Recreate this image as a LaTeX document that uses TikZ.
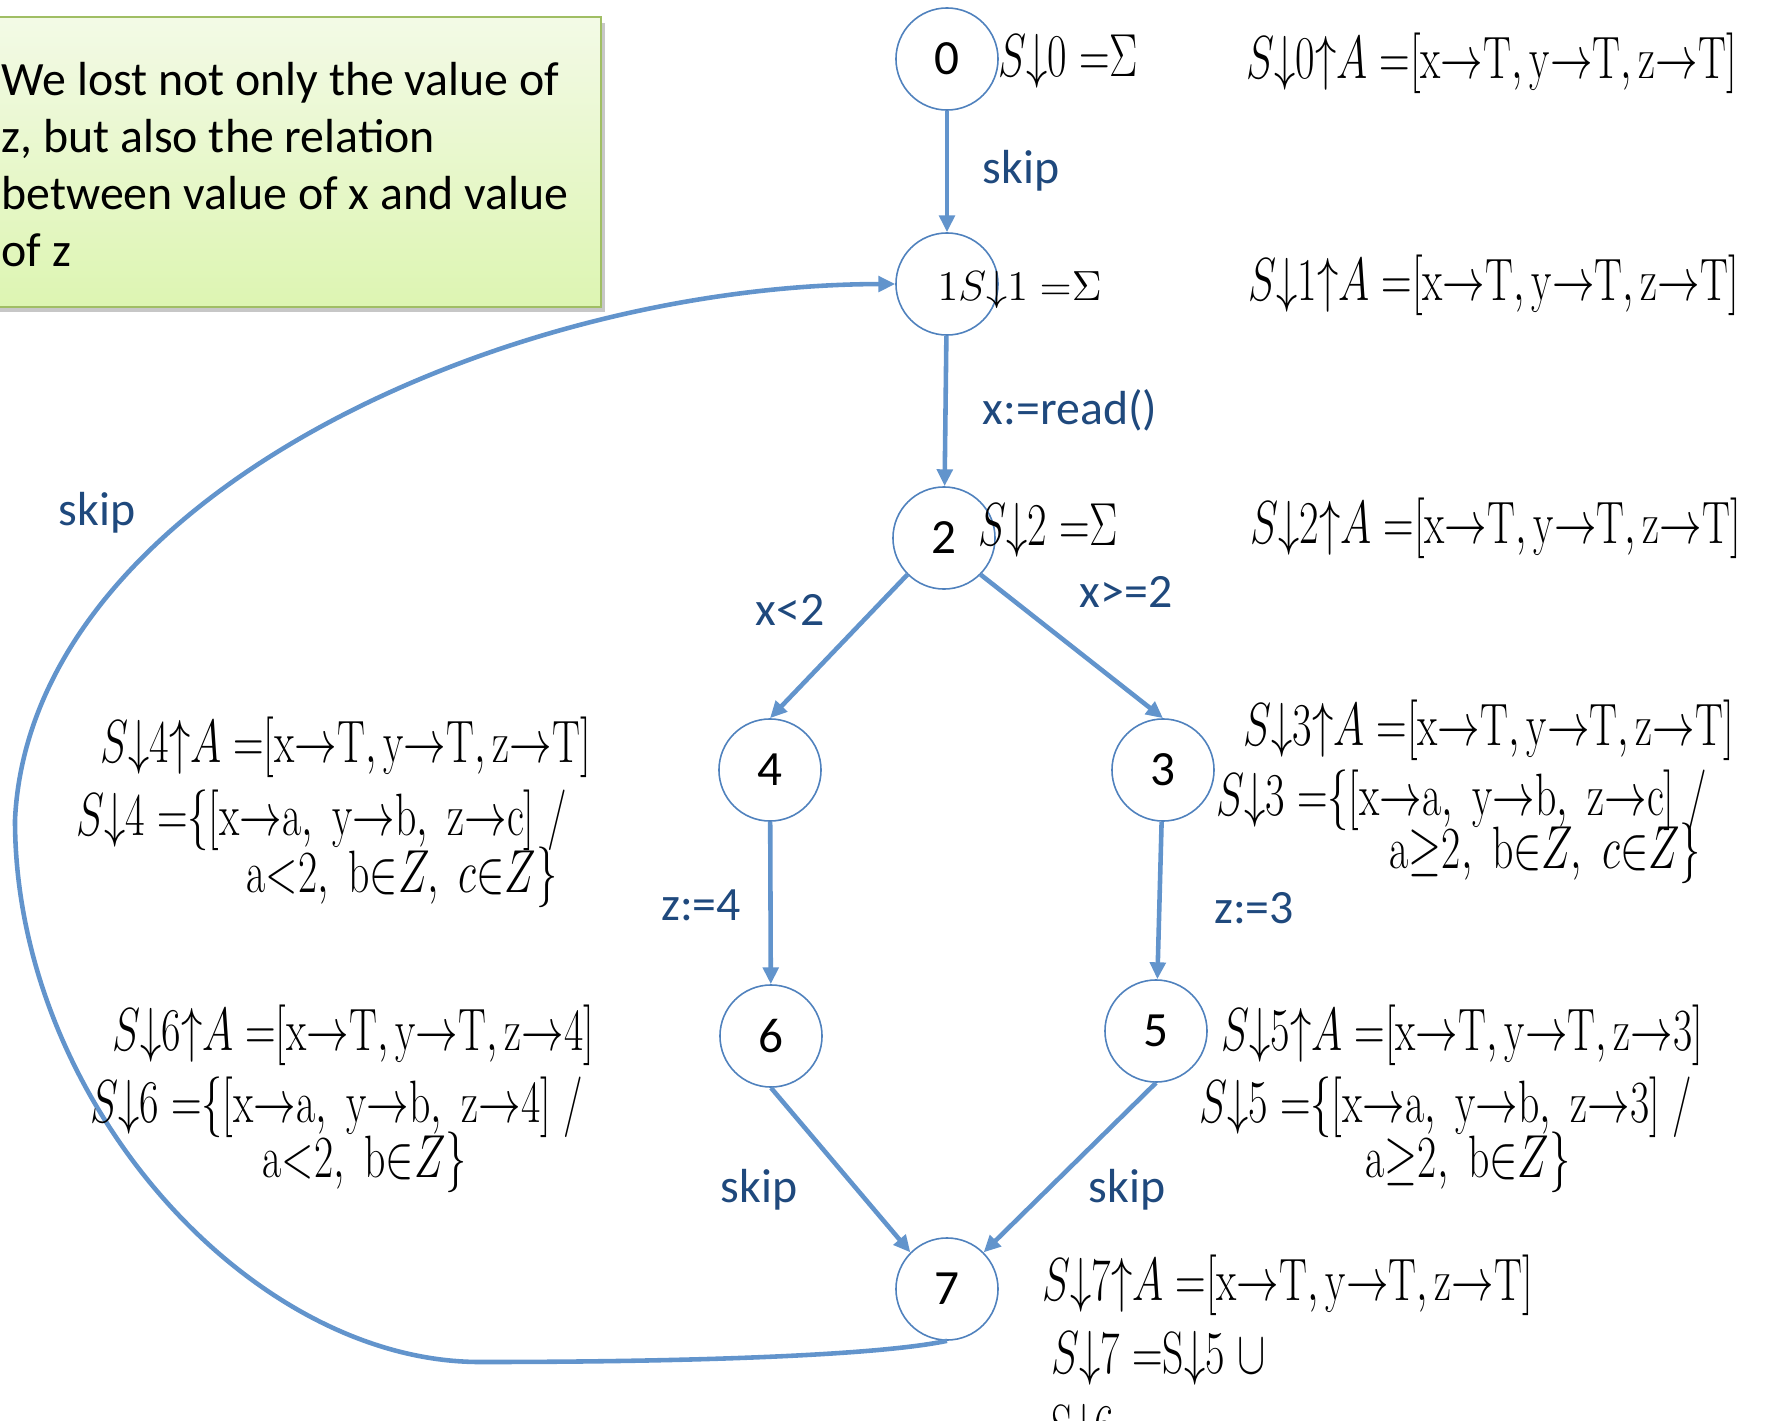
\documentclass[tikz,border=0pt]{standalone}
\usepackage{fontspec}
\newfontfamily\calib{Carlito}
\usepackage{graphicx}
\usepackage{tikz}
\usetikzlibrary{arrows.meta}
\definecolor{edgeblue}{RGB}{98,148,204}
\definecolor{ringblue}{RGB}{79,129,189}
\definecolor{labblue}{RGB}{31,73,125}
\definecolor{boxtop}{RGB}{243,250,230}
\definecolor{boxbot}{RGB}{221,245,178}
\definecolor{boxline}{RGB}{160,190,100}
\newcommand{\dnar}{{\downarrow}}
\newcommand{\upar}{{\uparrow}}
\newcommand{\rar}{{\rightarrow}}
\newcommand{\eqq}{\;{=}}
\newcommand{\sqz}[1]{\scalebox{0.698}[1]{$#1$}}
\tikzset{
  st/.style={circle,draw=ringblue,line width=0.45pt,fill=white,minimum size=1.02cm,
    inner sep=0pt,font=\calib\fontsize{14}{16}\selectfont},
  edg/.style={-{Triangle[length=4.8pt,width=4.4pt]},edgeblue,line width=1.3pt},
  elab/.style={labblue,font=\calib\fontsize{13.6}{16}\selectfont},
  ann/.style={anchor=base west,inner sep=0pt,font=\fontsize{17}{20}\selectfont},
}

\begin{document}
\begin{tikzpicture}[x=0.01cm,y=-0.01cm]
  \useasboundingbox (0,0) rectangle (1769,1421);
  % note box
  \fill[black!22] (-20,23) rectangle (605,312);
  \shade[top color=boxtop,bottom color=boxbot,draw=boxline,line width=0.8pt]
        (-20,17) rectangle (601,307);
  \node[anchor=north west,inner sep=0pt,align=left,
        font=\calib\fontsize{13.6}{16.2}\selectfont] (note) at (1,62)
        {We lost not only the value of\\z, but also the relation\\
         between value of x and value\\of z};
  % states
  \node[st] (n0) at (947,59) {0};
  \node[st] (n1) at (947,284) {};
  \node[st] (n2) at (944,538) {2};
  \node[st] (n4) at (770,770) {4};
  \node[st] (n3) at (1163,770) {3};
  \node[st] (n6) at (771,1036) {6};
  \node[st] (n5) at (1156,1031) {5};
  \node[st] (n7) at (947,1289) {7};
  % edges
  \draw[edg] (n0) -- (n1);
  \draw[edg] (n1) -- (n2);
  \draw[edg] (n2.225) -- (n4.north);
  \draw[edg] (n2.-45) -- (n3.north);
  \draw[edg] (n4) -- (n6);
  \draw[edg] (n3) -- (n5);
  \draw[edg] (n6.south) -- (n7.135);
  \draw[edg] (n5.south) -- (n7.45);
  % back edge 7 -> 1
  \draw[edg] (n7.south) .. controls (880,1355) and (700,1362) .. (480,1362)
        .. controls (250,1362) and (15,1100) .. (15,820)
        .. controls (30,500) and (500,285) .. (n1.west);
  % edge labels
  \node[elab] (l01) at (1021,171) {skip};
  \node[elab] (l12) at (1070,410) {x:=read()};
  \node[elab] (l24) at (790,610) {x<2};
  \node[elab] (l23) at (1126,592) {x>=2};
  \node[elab] (l46) at (701,905) {z:=4};
  \node[elab] (l35) at (1254,908) {z:=3};
  \node[elab] (l67) at (759,1190) {skip};
  \node[elab] (l57) at (1127,1190) {skip};
  \node[elab] (l71) at (97,513) {skip};
  % state annotations
  \node[ann] (a0) at (998,77) {\sqz{S\dnar 0\eqq\Sigma}};
  \node[ann] (b0) at (1246,78) {\sqz{S\dnar 0\upar A\eqq[\mathrm{x\rar T,y\rar T,z\rar T}]}};
  \node[ann,font=\fontsize{12.5}{15}\selectfont] (a1) at (937,300) {$1S\dnar 1\eqq\Sigma$};
  \node[ann] (b1) at (1248,300) {\sqz{S\dnar 1\upar A\eqq[\mathrm{x\rar T,y\rar T,z\rar T}]}};
  \node[ann] (a2) at (978,545) {\sqz{S\dnar 2\eqq\Sigma}};
  \node[ann] (b2) at (1250,543) {\sqz{S\dnar 2\upar A\eqq[\mathrm{x\rar T,y\rar T,z\rar T}]}};
  \node[ann] (b3) at (1243,745) {\sqz{S\dnar 3\upar A\eqq[\mathrm{x\rar T,y\rar T,z\rar T}]}};
  \node[ann] (c3) at (1216,815) {\sqz{S\dnar 3\eqq\{[\mathrm{x\rar a,\ y\rar b,\ z\rar c}]\ /}};
  \node[ann] (d3) at (1389,868) {\sqz{\mathrm{a{\geq}2,\ b{\in}}Z,\ c{\in}Z\}}};
  \node[ann] (b4) at (100,762) {\sqz{S\dnar 4\upar A\eqq[\mathrm{x\rar T,y\rar T,z\rar T}]}};
  \node[ann] (c4) at (76,835) {\sqz{S\dnar 4\eqq\{[\mathrm{x\rar a,\ y\rar b,\ z\rar c}]\ /}};
  \node[ann] (d4) at (246,892) {\sqz{\mathrm{a{<}2,\ b{\in}}Z,\ c{\in}Z\}}};
  \node[ann] (b6) at (112,1050) {\sqz{S\dnar 6\upar A\eqq[\mathrm{x\rar T,y\rar T,z\rar 4}]}};
  \node[ann] (c6) at (90,1122) {\sqz{S\dnar 6\eqq\{[\mathrm{x\rar a,\ y\rar b,\ z\rar 4}]\ /}};
  \node[ann] (d6) at (262,1177) {\sqz{\mathrm{a{<}2,\ b{\in}}Z\}}};
  \node[ann] (b5) at (1221,1050) {\sqz{S\dnar 5\upar A\eqq[\mathrm{x\rar T,y\rar T,z\rar 3}]}};
  \node[ann] (c5) at (1199,1122) {\sqz{S\dnar 5\eqq\{[\mathrm{x\rar a,\ y\rar b,\ z\rar 3}]\ /}};
  \node[ann] (d5) at (1365,1177) {\sqz{\mathrm{a{\geq}2,\ b{\in}}Z\}}};
  \node[ann] (b7) at (1042,1300) {\sqz{S\dnar 7\upar A\eqq[\mathrm{x\rar T,y\rar T,z\rar T}]}};
  \node[ann] (c7) at (1051,1373) {\sqz{S\dnar 7\eqq\mathrm{S}\dnar 5\ {\cup}}};
  \node[ann] (d7) at (1051,1446) {\sqz{\mathrm{S}\dnar 6}};
\end{tikzpicture}
\end{document}
